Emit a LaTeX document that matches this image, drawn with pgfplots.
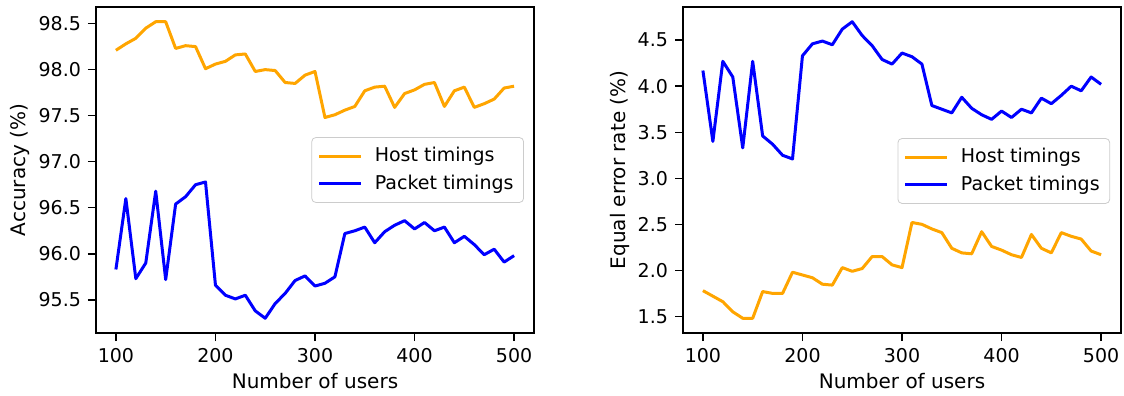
\documentclass[border=0pt]{standalone}
\usepackage{fontspec}
\setmainfont{DejaVu Sans}
\usepackage{pgfplots}
\usepackage{pgfplotstable}
\pgfplotsset{compat=1.18}
\definecolor{mplorange}{HTML}{FFA500}
\definecolor{mplblue}{HTML}{0000FF}
\pgfplotstableread{
x acchost accpacket eerhost eerpacket
100 98.21 95.83 1.78 4.17
110 98.28 96.60 1.72 3.40
120 98.34 95.73 1.66 4.27
130 98.45 95.90 1.55 4.10
140 98.52 96.68 1.48 3.33
150 98.52 95.72 1.48 4.27
160 98.23 96.54 1.77 3.46
170 98.26 96.62 1.75 3.37
180 98.25 96.75 1.75 3.25
190 98.01 96.78 1.98 3.21
200 98.06 95.66 1.95 4.33
210 98.09 95.55 1.92 4.46
220 98.16 95.51 1.85 4.49
230 98.17 95.55 1.84 4.45
240 97.98 95.38 2.03 4.62
250 98.00 95.30 1.99 4.70
260 97.99 95.46 2.02 4.55
270 97.86 95.57 2.15 4.44
280 97.85 95.71 2.15 4.29
290 97.94 95.76 2.06 4.24
300 97.98 95.65 2.03 4.36
310 97.48 95.68 2.52 4.32
320 97.51 95.75 2.50 4.24
330 97.56 96.22 2.45 3.79
340 97.60 96.25 2.41 3.75
350 97.77 96.29 2.24 3.71
360 97.81 96.12 2.19 3.88
370 97.82 96.24 2.18 3.76
380 97.59 96.31 2.42 3.69
390 97.74 96.36 2.26 3.64
400 97.78 96.27 2.22 3.73
410 97.84 96.34 2.17 3.66
420 97.86 96.25 2.14 3.75
430 97.60 96.29 2.39 3.71
440 97.77 96.12 2.24 3.87
450 97.81 96.19 2.19 3.81
460 97.59 96.10 2.41 3.90
470 97.63 95.99 2.37 4.00
480 97.68 96.05 2.34 3.95
490 97.80 95.91 2.21 4.10
500 97.82 95.98 2.17 4.02
}\datatable
\pgfplotsset{
  mplstyle/.style={
    scale only axis,
    width=219pt, height=163pt,
    xmin=80, xmax=520,
    xtick={100,200,300,400,500},
    axis line style={black, line width=0.75pt},
    tick align=outside,
    xtick pos=bottom, ytick pos=left,
    major tick length=4pt,
    tick style={black, line width=0.7pt},
    /pgf/number format/assume math mode=true,
    ticklabel style={font=\fontsize{9.5}{11}\selectfont},
    label style={font=\fontsize{9.5}{11}\selectfont},
    yticklabel style={/pgf/number format/fixed, /pgf/number format/fixed zerofill, /pgf/number format/precision=1},
    xticklabel style={/pgf/number format/fixed},
    scaled ticks=false,
    xlabel={Number of users},
    every axis x label/.style={at={(rel axis cs:0.5,-0.148)}, anchor=center},
    legend cell align=left,
    legend image code/.code={\draw[#1, line cap=butt] (0pt,0pt) -- (21pt,0pt);},
    legend style={draw=black!20, rounded corners=2pt, fill=white, fill opacity=0.8, text opacity=1,
      font=\fontsize{9.5}{11}\selectfont, inner xsep=3pt, inner ysep=3pt, row sep=1pt,
      nodes={inner sep=2pt},
      /tikz/every odd column/.append style={column sep=4pt}},
  },
}
\begin{document}
\begin{tikzpicture}
\useasboundingbox (0,0) rectangle (562pt,198pt);
\begin{axis}[mplstyle,
  at={(48pt,31.5pt)}, anchor=south west,
  ymin=95.14, ymax=98.68,
  ytick={95.5,96,96.5,97,97.5,98,98.5},
  ylabel={Accuracy (\%)},
  every axis y label/.style={at={(rel axis cs:-0.1735,0.5)}, rotate=90, anchor=center},
  legend style={at={(0.977,0.5)}, anchor=east},
]
\addplot[mplorange, line width=1.5pt, line join=round] table[x=x, y=acchost] {\datatable};
\addlegendentry{Host timings}
\addplot[mplblue, line width=1.5pt, line join=round] table[x=x, y=accpacket] {\datatable};
\addlegendentry{Packet timings}
\end{axis}
\begin{axis}[mplstyle,
  at={(341.5pt,31.5pt)}, anchor=south west,
  ymin=1.32, ymax=4.86,
  ytick={1.5,2,2.5,3,3.5,4,4.5},
  ylabel={Equal error rate (\%)},
  every axis y label/.style={at={(rel axis cs:-0.145,0.5)}, rotate=90, anchor=center},
  legend style={at={(0.975,0.497)}, anchor=east},
]
\addplot[mplorange, line width=1.5pt, line join=round] table[x=x, y=eerhost] {\datatable};
\addlegendentry{Host timings}
\addplot[mplblue, line width=1.5pt, line join=round] table[x=x, y=eerpacket] {\datatable};
\addlegendentry{Packet timings}
\end{axis}
\end{tikzpicture}
\end{document}
